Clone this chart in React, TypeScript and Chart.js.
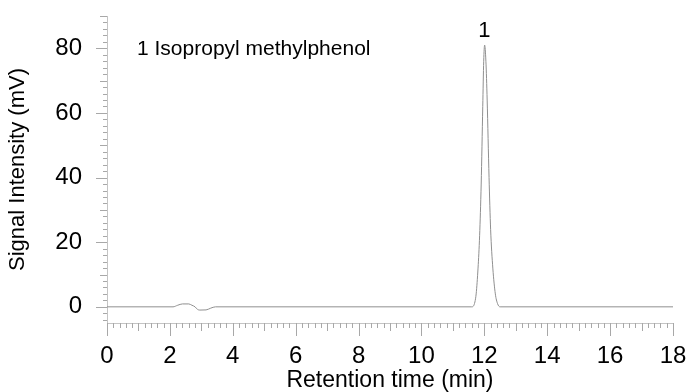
import React, { useEffect, useRef } from "react";
import { Chart, registerables } from "chart.js";

Chart.register(...registerables);

// ---- data ----
const TIME_MIN = [
  0, 2.1, 2.25, 2.4, 2.6, 2.7, 2.8, 2.88, 2.95, 3.15, 3.3, 3.45,
  11.6, 11.65, 11.7, 11.74, 11.8, 11.85, 11.9, 11.95, 11.98, 12.01, 12.05, 12.09, 12.15, 12.2, 12.27, 12.35, 12.42, 12.5,
  18,
];
const SIGNAL_MV = [
  0, 0, 0.5, 0.9, 0.9, 0.5, 0, -0.8, -1.0, -0.95, -0.4, 0,
  0, 0.2, 1.5, 4, 12, 22, 38, 62, 76, 81, 76, 64, 40, 24, 12, 4, 1, 0,
  0,
];
const X_TICKS = [0, 2, 4, 6, 8, 10, 12, 14, 16, 18];
const Y_TICKS = [0, 20, 40, 60, 80];
const PEAK_TIMES = [12.0];
const PEAK_LABELS = ["1"];
const LEGEND_TEXT = "1 Isopropyl methylphenol";

const FONT = '"Liberation Sans", Arial, Helvetica, sans-serif';
const AXIS_COLOR = "#c4c4c4";
const TICK_COLOR = "#a8a8a8";

const minorTicksPlugin = {
  id: "minorTicks",
  afterDraw(chart: any) {
    const { ctx, scales } = chart;
    const xs = scales.x;
    const ys = scales.y;
    const area = chart.chartArea;
    ctx.save();
    ctx.strokeStyle = TICK_COLOR;
    ctx.lineWidth = 1;
    // x ticks: every 0.2 min, medium at 1, major at 2
    for (let i = 0; i <= 90; i++) {
      const v = i * 0.2;
      const px = Math.round(xs.getPixelForValue(v)) + 0.5;
      const len = i % 10 === 0 ? 13 : i % 5 === 0 ? 8 : 5;
      ctx.beginPath();
      ctx.moveTo(px, area.bottom);
      ctx.lineTo(px, area.bottom + len);
      ctx.stroke();
    }
    // y ticks: every 2, medium at 10, major at 20
    for (let i = -2; i <= 45; i++) {
      const v = i * 2;
      const py = Math.round(ys.getPixelForValue(v)) + 0.5;
      const len = v % 20 === 0 ? 11 : v % 10 === 0 ? 7 : 4;
      ctx.beginPath();
      ctx.moveTo(area.left, py);
      ctx.lineTo(area.left - len, py);
      ctx.stroke();
    }
    // peak labels
    ctx.fillStyle = "#000";
    ctx.font = `22px ${FONT}`;
    ctx.textAlign = "center";
    ctx.textBaseline = "alphabetic";
    PEAK_TIMES.forEach((t, k) => {
      ctx.fillText(PEAK_LABELS[k], xs.getPixelForValue(t), 37);
    });
    // compound legend text
    ctx.font = `21px ${FONT}`;
    ctx.textAlign = "left";
    ctx.fillText(LEGEND_TEXT, 137, 55);
    ctx.restore();
  },
};

const zeroPad = (s: any) => {
  s.paddingTop = 0;
  s.paddingBottom = 0;
  s.paddingLeft = 0;
  s.paddingRight = 0;
};

export default function App() {
  const ref = useRef<HTMLCanvasElement | null>(null);

  useEffect(() => {
    document.body.style.margin = "0";
    const canvas = ref.current;
    if (!canvas) return;
    const data = TIME_MIN.map((t, i) => ({ x: t, y: SIGNAL_MV[i] }));
    const chart = new Chart(canvas, {
      type: "line",
      data: {
        datasets: [
          {
            data,
            borderColor: "#8f8f8f",
            borderWidth: 1,
            pointRadius: 0,
            fill: false,
            cubicInterpolationMode: "monotone",
          },
        ],
      },
      options: {
        animation: false,
        responsive: false,
        devicePixelRatio: 1,
        events: [],
        layout: { padding: { left: 0, right: 16, top: 16, bottom: 0 } },
        plugins: { legend: { display: false }, tooltip: { enabled: false } },
        scales: {
          x: {
            type: "linear",
            min: 0,
            max: 18,
            afterBuildTicks: (s: any) => {
              s.ticks = X_TICKS.map((v) => ({ value: v }));
            },
            afterFit: (s: any) => {
              s.height = 69;
              zeroPad(s);
            },
            grid: { display: false, drawTicks: false },
            border: { display: true, color: AXIS_COLOR, width: 1 },
            ticks: {
              padding: 19,
              color: "#000",
              font: { family: FONT, size: 24 },
              maxRotation: 0,
              autoSkip: false,
            },
            title: {
              display: true,
              text: "Retention time (min)",
              color: "#000",
              font: { family: FONT, size: 23, lineHeight: 1 },
              padding: { top: 0, bottom: 0 },
            },
          },
          y: {
            type: "linear",
            min: -5,
            max: 90,
            afterBuildTicks: (s: any) => {
              s.ticks = Y_TICKS.map((v) => ({ value: v }));
            },
            afterFit: (s: any) => {
              s.width = 107;
              zeroPad(s);
            },
            grid: { display: false, drawTicks: false },
            border: { display: true, color: AXIS_COLOR, width: 1 },
            ticks: {
              padding: 25,
              color: "#000",
              font: { family: FONT, size: 24 },
              autoSkip: false,
            },
            title: {
              display: true,
              text: "Signal Intensity (mV)",
              color: "#000",
              font: { family: FONT, size: 22, lineHeight: 1 },
              padding: { top: 7, bottom: 0 },
            },
          },
        },
      },
      plugins: [minorTicksPlugin],
    });
    return () => chart.destroy();
  }, []);

  return (
    <div style={{ position: "fixed", left: 0, top: 0, width: 689, height: 392, background: "#fff" }}>
      <canvas ref={ref} width={689} height={392} style={{ display: "block", width: 689, height: 392 }} />
    </div>
  );
}
